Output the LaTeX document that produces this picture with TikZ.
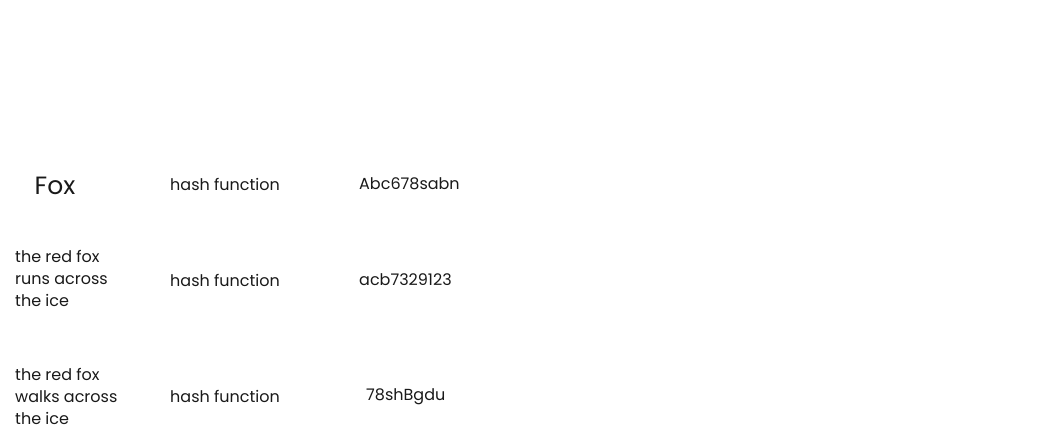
\documentclass[tikz,border=0pt]{standalone}
\usepackage{fontspec}
\setmainfont{Poppins}
\begin{document}
\begin{tikzpicture}[x=1pt,y=-1pt,
  lbl/.style={anchor=west,inner sep=0pt,font=\fontsize{16}{22}\selectfont,align=left,text=black!90}]
\useasboundingbox (0,0) rectangle (1046,439);
\node[lbl,anchor=center,font=\fontsize{25}{28}\selectfont] (fox) at (55,185.5) {Fox};
\node[lbl] (h1) at (170,184) {hash function};
\node[lbl] (o1) at (359,184) {Abc678sabn};
\node[lbl] (t2) at (15,278) {the red fox\\runs across\\the ice};
\node[lbl] (h2) at (170,280) {hash function};
\node[lbl] (o2) at (359,280) {acb7329123};
\node[lbl] (t3) at (15,396) {the red fox\\walks across\\the ice};
\node[lbl] (h3) at (170,396) {hash function};
\node[lbl] (o3) at (366,397) {78shBgdu};
\end{tikzpicture}
\end{document}
